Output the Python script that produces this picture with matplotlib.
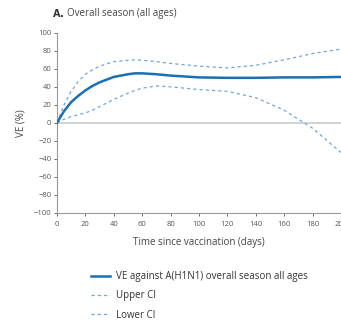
import matplotlib
matplotlib.use("Agg")
import matplotlib.pyplot as plt
import numpy as np

days = [0, 5, 10, 15, 20, 25, 30, 40, 50, 55, 60, 70, 80, 100, 120, 140, 160, 180, 200]
ve = [0, 13, 23, 30, 36, 41, 45, 51, 54, 55, 55, 54, 52.5, 50.5, 50, 50, 50.5, 50.5, 51]
upper = [0, 20, 35, 46, 54, 59, 63, 68, 69.5, 70, 69.5, 68, 66, 63, 61, 64, 70, 77, 82]
lower = [0, 4, 7, 9, 11, 14, 18, 26, 33, 36, 38.5, 41, 40, 37, 35, 28, 14, -6, -33]

xticks = list(range(0, 201, 20))
yticks = list(range(-100, 101, 20))

plt.rcParams['font.family'] = ['Open Sans', 'DejaVu Sans']
fig = plt.figure(figsize=(3.41, 3.22), dpi=100)
ax = fig.add_axes([0.167, 0.339, 0.833, 0.559])

main_c = '#1a6fb5'
ci_c = '#6fa6d8'
grey = '#9a9a9a'

ax.axhline(0, color='#cfcfcf', lw=1.3, zorder=1)
l1, = ax.plot(days, ve, color=main_c, lw=1.8, zorder=3,
              label='VE against A(H1N1) overall season all ages')
l2, = ax.plot(days, upper, color=ci_c, lw=0.9, ls=(0, (2.5, 2.5)), zorder=2, label='Upper CI')
l3, = ax.plot(days, lower, color=ci_c, lw=0.9, ls=(0, (2.5, 2.5)), zorder=2, label='Lower CI')

ax.set_xlim(0, 200)
ax.set_ylim(-100, 100)
ax.set_xticks(xticks)
ax.set_yticks(yticks)
ax.tick_params(labelsize=5.5, colors='#555555', length=2, width=0.6, pad=2)
ax.tick_params(axis='x', pad=4)
for s in ['top', 'right']:
    ax.spines[s].set_visible(False)
for s in ['left', 'bottom']:
    ax.spines[s].set_color(grey)
    ax.spines[s].set_linewidth(0.8)

ax.set_ylabel('VE (%)', fontsize=7, color='#444444', labelpad=5)
ax.set_xlabel('Time since vaccination (days)', fontsize=7, color='#444444', labelpad=6)

fig.text(0.152, 0.957, r'$\mathbf{A.}$', fontsize=7, color='#333333', va='center')
fig.text(0.197, 0.957, 'Overall season (all ages)', fontsize=7, color='#444444', va='center')

leg = fig.legend(handles=[l1, l2, l3], loc='upper left', bbox_to_anchor=(0.255, 0.17),
                 frameon=False, fontsize=7, handlelength=2.0, labelspacing=0.85,
                 handletextpad=0.6, borderaxespad=0)
for t in leg.get_texts():
    t.set_color('#333333')

fig.savefig('out.png', dpi=100)
